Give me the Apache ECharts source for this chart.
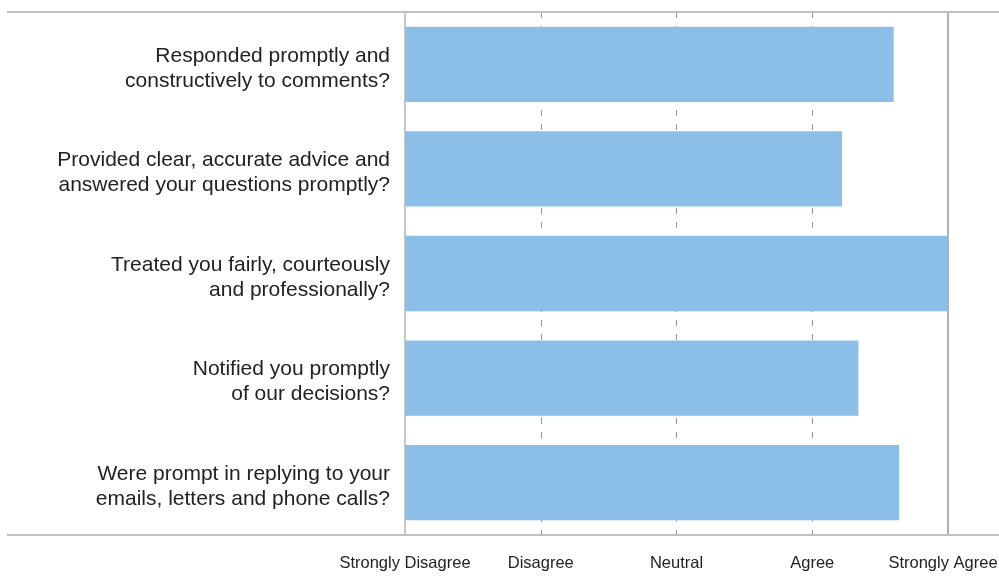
<!DOCTYPE html>
<html>
<head>
<meta charset="utf-8">
<script src="https://cdn.jsdelivr.net/npm/echarts@6/dist/echarts.min.js"></script>
<style>html,body{margin:0;padding:0;background:#fff}#c{width:999px;height:578px}</style>
</head>
<body>
<div id="c"></div>
<script>
var categories = [
  "Responded promptly and\nconstructively to comments?",
  "Provided clear, accurate advice and\nanswered your questions promptly?",
  "Treated you fairly, courteously\nand professionally?",
  "Notified you promptly\nof our decisions?",
  "Were prompt in replying to your\nemails, letters and phone calls?"
];
var scores = [4.6, 4.22, 5.0, 4.34, 4.64];
var tickLabels = ["Strongly Disagree", "Disagree", "Neutral", "Agree", "Strongly Agree"];

var chart = echarts.init(document.getElementById('c'), null, {renderer: 'canvas'});
chart.setOption({
  animation: false,
  grid: {left: 405, right: 51, top: 12, bottom: 43, containLabel: false, outerBoundsMode: 'none'},
  xAxis: {
    type: 'value', min: 1, max: 5, interval: 1,
    axisLine: {show: false},
    axisTick: {show: false},
    axisLabel: {
      margin: 20, color: '#222', fontSize: 16.5, fontFamily: 'Liberation Sans',
      formatter: function (v) {
        var i = Math.round(v) - 1;
        var t = tickLabels[i] || '';
        return i === tickLabels.length - 1 ? '{last|' + t + '}' : t;
      },
      rich: {last: {color: '#222', fontSize: 16.5, fontFamily: 'Liberation Sans', padding: [0, 10, 0, 0]}}
    },
    splitLine: {show: true, lineStyle: {color: '#999', type: [6, 8], width: 1}}
  },
  yAxis: {
    type: 'category', data: categories, inverse: true,
    axisLine: {show: true, lineStyle: {color: '#c8c8c8', width: 2}},
    axisTick: {show: false},
    axisLabel: {
      margin: 15, color: '#222', fontSize: 21, lineHeight: 25, fontFamily: 'Liberation Sans', align: 'right',
      formatter: function (v) { return '{s| }\n' + v; },
      rich: {s: {fontSize: 1, lineHeight: 8}}
    }
  },
  series: [{
    type: 'bar', data: scores, barCategoryGap: '28%',
    itemStyle: {color: '#8CBFE8'},
    markLine: {
      silent: true, symbol: 'none', label: {show: false},
      lineStyle: {color: '#b0b0b0', type: 'solid', width: 2},
      data: [{xAxis: 5}]
    }
  }],
  graphic: [
    {type: 'line', shape: {x1: 7, y1: 12, x2: 999, y2: 12}, style: {stroke: '#c0c0c0', lineWidth: 2}, z: 10},
    {type: 'line', shape: {x1: 7, y1: 535, x2: 999, y2: 535}, style: {stroke: '#c0c0c0', lineWidth: 2}, z: 10}
  ]
});
</script>
</body>
</html>
